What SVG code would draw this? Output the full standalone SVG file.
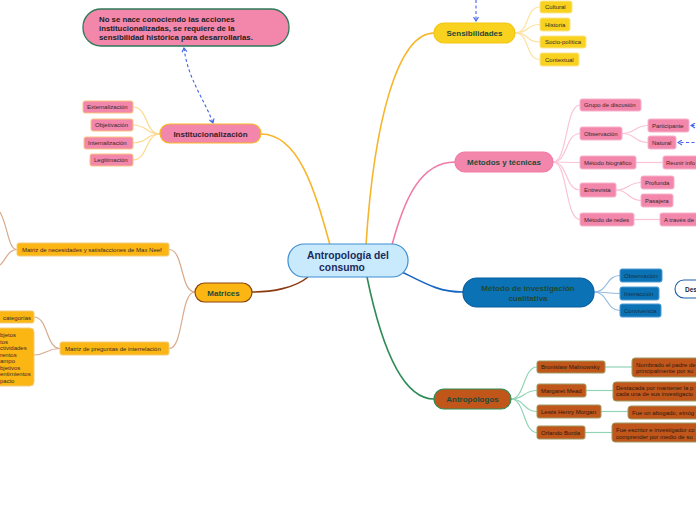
<svg xmlns="http://www.w3.org/2000/svg" width="696" height="520" viewBox="0 0 696 520">
<defs>
<marker id="ah" viewBox="0 0 6 6" refX="5" refY="3" markerWidth="6" markerHeight="6" orient="auto-start-reverse" markerUnits="userSpaceOnUse">
<path d="M1,0.5 L5,3 L1,5.5" fill="none" stroke="#3f63f0" stroke-width="1.1"/>
</marker>
</defs>
<style>
text{font-family:"Liberation Sans","DejaVu Sans",Arial,sans-serif;}
.s{font-size:6px;fill:#3a2a2a;}
.b{font-size:8px;font-weight:bold;fill:#1d4a36;text-anchor:middle;}
.pk{fill:#f286ab;stroke:#f7b2cc;stroke-width:1;}
.pko{fill:#f286ab;stroke:#f9c57e;stroke-width:1;}
.yl{fill:#f9d11f;stroke:#fbe58a;stroke-width:1;}
.or{fill:#fcb614;stroke:#f2cc7e;stroke-width:1;}
.bl{fill:#0b72b5;stroke:#4d9ad4;stroke-width:1;}
.br{fill:#c1561b;stroke:#9e9a62;stroke-width:1;}
.c{fill:none;stroke-width:1.2;}
.m{fill:none;stroke-width:1.6;}
.dash{fill:none;stroke:#3f63f0;stroke-width:1.1;stroke-dasharray:3,2.5;}
</style>
<rect width="696" height="520" fill="#ffffff"/>

<g id="connectors">
<!-- main branches -->
<path d="M261,134 C300,134 316,195 330,245" class="m" stroke="#f7b52b"/>
<path d="M434,33 C398,33 374,120 366,245" class="m" stroke="#f7b52b"/>
<path d="M455,162 C420,162 404,200 392,245" class="m" stroke="#f07aa8"/>
<path d="M402,272 C428,285 440,292 463,292" class="m" stroke="#1565c0"/>
<path d="M367,277 C380,340 400,399 434,399" class="m" stroke="#2e8b57"/>
<path d="M308,277 C295,288 272,292 252,292" class="m" stroke="#8b3a0f"/>
<!-- Institucionalizacion children -->
<g stroke="#fcd98e" class="c">
<path d="M160,134 C145,134 148,107 133,107"/>
<path d="M160,134 C145,134 148,125 133,125"/>
<path d="M160,134 C145,134 148,143 133,143"/>
<path d="M160,134 C145,134 148,160 133,160"/>
</g>
<!-- Sensibilidades children -->
<g stroke="#fde2a2" class="c">
<path d="M515,33 C530,33 525,7 540,7"/>
<path d="M515,33 C530,33 525,24.5 540,24.5"/>
<path d="M515,33 C530,33 525,42 540,42"/>
<path d="M515,33 C530,33 525,59.5 540,59.5"/>
</g>
<!-- Metodos children -->
<g stroke="#f9c3d7" class="c">
<path d="M553,162 C568,162 565,105 580,105"/>
<path d="M553,162 C568,162 565,133.5 580,133.5"/>
<path d="M553,162 C568,162 565,162.5 580,162.5"/>
<path d="M553,162 C568,162 565,190 580,190"/>
<path d="M553,162 C568,162 565,219.5 580,219.5"/>
<path d="M622,133.5 C636,133.5 634,125.5 648,125.5"/>
<path d="M622,133.5 C636,133.5 634,142.5 648,142.5"/>
<path d="M636,162.5 L663,162.5"/>
<path d="M616,190 C629,190 628,182.5 641,182.5"/>
<path d="M616,190 C629,190 628,200.5 641,200.5"/>
<path d="M634,219.5 L660,219.5"/>
</g>
<!-- Metodo inv children -->
<g stroke="#93b9e2" class="c">
<path d="M594,292 C608,292 606,275.5 620,275.5"/>
<path d="M594,292 C608,292 606,293.5 620,293.5"/>
<path d="M594,292 C608,292 606,310.5 620,310.5"/>
</g>
<!-- Antropologos children -->
<g stroke="#92d4b6" class="c">
<path d="M511,399 C525,399 523,367 537,367"/>
<path d="M511,399 C525,399 523,390.5 537,390.5"/>
<path d="M511,399 C525,399 523,411.5 537,411.5"/>
<path d="M511,399 C525,399 523,432.5 537,432.5"/>
<path d="M605,367 L632,367"/>
<path d="M586,390.5 L613,390.5"/>
<path d="M601,411.5 L628,411.5"/>
<path d="M585,432.5 L612,432.5"/>
</g>
<!-- Matrices children -->
<g stroke="#d9aa8c" class="c">
<path d="M195,292 C180,292 184,249.5 169,249.5"/>
<path d="M195,292 C180,292 184,348.5 169,348.5"/>
<path d="M17,249.5 C8,249.5 8,226 0,212"/>
<path d="M17,249.5 C8,249.5 6,260 0,265"/>
<path d="M60,348.5 C46,348.5 48,317 34,317"/>
<path d="M60,348.5 C46,348.5 46,355 34,355"/>
</g>
<!-- dashed relations -->
<path d="M184,48 C188,80 205,100 213,123" class="dash" marker-start="url(#ah)" marker-end="url(#ah)"/>
<path d="M476,0 L476,21" class="dash" marker-end="url(#ah)"/>
<path d="M700,125.5 L691,125.5" class="dash" marker-end="url(#ah)"/>
<path d="M700,142.5 L678,142.5" class="dash" marker-end="url(#ah)"/>
</g>

<g id="callout">
<rect x="83" y="9" width="206" height="37" rx="18" fill="#f286ab" stroke="#2d7a57" stroke-width="1.3"/>
<text x="99" y="22" font-size="7.8" font-weight="bold" fill="#222">No se nace conociendo las acciones</text>
<text x="99" y="31" font-size="7.8" font-weight="bold" fill="#222">institucionalizadas, se requiere de la</text>
<text x="99" y="40" font-size="7.8" font-weight="bold" fill="#222">sensibilidad histórica para desarrollarlas.</text>
</g>

<g id="center">
<rect x="288" y="244" width="120" height="33" rx="16" fill="#c8eafc" stroke="#3d8fd1" stroke-width="1.2"/>
<text x="348" y="259" font-size="10.3" font-weight="bold" fill="#1b2a5c" text-anchor="middle">Antropología del</text>
<text x="342" y="270.5" font-size="10.3" font-weight="bold" fill="#1b2a5c" text-anchor="middle">consumo</text>
</g>

<g id="institucionalizacion">
<rect x="160" y="124" width="101" height="19" rx="9.5" fill="#f286ab" stroke="#f7b52b" stroke-width="1.2"/>
<text x="210.5" y="136.5" class="b" style="fill:#3a1d2b">Institucionalización</text>
</g>
<g id="externalizacion"><rect x="83" y="101" width="50" height="12" rx="2" class="pko"/><text x="87" y="109" class="s">Externalización</text></g>
<g id="objetivacion"><rect x="91" y="119" width="42" height="12" rx="2" class="pko"/><text x="95" y="127" class="s">Objetivación</text></g>
<g id="internalizacion"><rect x="84" y="137" width="49" height="12" rx="2" class="pko"/><text x="88" y="145" class="s">Internalización</text></g>
<g id="legitimacion"><rect x="90" y="154" width="43" height="12" rx="2" class="pko"/><text x="94" y="162" class="s">Legitimación</text></g>

<g id="sensibilidades">
<rect x="434" y="23" width="81" height="20" rx="10" fill="#f9d11f" stroke="#f3c615" stroke-width="1.2"/>
<text x="474.5" y="36" class="b">Sensibilidades</text>
</g>
<g id="cultural"><rect x="540" y="1" width="32" height="12" rx="2" class="yl"/><text x="545" y="9" class="s">Cultural</text></g>
<g id="historia"><rect x="540" y="18" width="30" height="13" rx="2" class="yl"/><text x="545" y="27" class="s">Historia</text></g>
<g id="sociopolitica"><rect x="540" y="36" width="46" height="12" rx="2" class="yl"/><text x="545" y="44" class="s">Socio-política</text></g>
<g id="contextual"><rect x="540" y="53" width="39" height="13" rx="2" class="yl"/><text x="545" y="62" class="s">Contextual</text></g>

<g id="metodos">
<rect x="455" y="152" width="98" height="20" rx="10" fill="#f286ab" stroke="#f27aa8" stroke-width="1.2"/>
<text x="504" y="165" class="b">Métodos y técnicas</text>
</g>
<g id="grupo"><rect x="580" y="99" width="61" height="12" rx="2" class="pk"/><text x="584" y="107" class="s">Grupo de discusión</text></g>
<g id="observacion1"><rect x="580" y="127" width="42" height="13" rx="2" class="pk"/><text x="584" y="136" class="s">Observación</text></g>
<g id="participante"><rect x="648" y="119" width="41" height="13" rx="2" class="pk"/><text x="652" y="128" class="s">Participante</text></g>
<g id="natural"><rect x="648" y="136" width="28" height="13" rx="2" class="pk"/><text x="652" y="145" class="s">Natural</text></g>
<g id="biografico"><rect x="580" y="156" width="56" height="13" rx="2" class="pk"/><text x="584" y="165" class="s">Método biográfico</text></g>
<g id="reunir"><rect x="663" y="156" width="45" height="13" rx="2" class="pk"/><text x="666" y="165" class="s">Reunir info</text></g>
<g id="entrevista"><rect x="580" y="183" width="36" height="14" rx="2" class="pk"/><text x="584" y="192" class="s">Entrevista</text></g>
<g id="profunda"><rect x="641" y="176" width="33" height="13" rx="2" class="pk"/><text x="645" y="185" class="s">Profunda</text></g>
<g id="pasajera"><rect x="641" y="194" width="32" height="13" rx="2" class="pk"/><text x="645" y="203" class="s">Pasajera</text></g>
<g id="redes"><rect x="580" y="213" width="54" height="13" rx="2" class="pk"/><text x="584" y="222" class="s">Método de redes</text></g>
<g id="atraves"><rect x="660" y="213" width="50" height="13" rx="2" class="pk"/><text x="664" y="222" class="s">A través de</text></g>

<g id="metodo-inv">
<rect x="463" y="278" width="131" height="29" rx="14" fill="#0b72b5" stroke="#0a5fa0" stroke-width="1.2"/>
<text x="528" y="291" class="b">Método de investigación</text>
<text x="528" y="300.5" class="b">cualitativa</text>
</g>
<g id="observacion2"><rect x="620" y="269" width="42" height="13" rx="2" class="bl"/><text x="624" y="278" class="s" style="fill:#17324a">Observación</text></g>
<g id="interaccion"><rect x="620" y="287" width="39" height="13" rx="2" class="bl"/><text x="624" y="296" class="s" style="fill:#17324a">Interacción</text></g>
<g id="convivencia"><rect x="620" y="304" width="41" height="13" rx="2" class="bl"/><text x="624" y="313" class="s" style="fill:#17324a">Convivencia</text></g>
<g id="desc"><rect x="675" y="280" width="50" height="18" rx="9" fill="#ffffff" stroke="#1a5fa8" stroke-width="1.1"/><text x="685" y="291.5" font-size="6.5" font-weight="bold" fill="#1b2a3c">Des</text></g>

<g id="antropologos">
<rect x="434" y="389" width="77" height="20" rx="10" fill="#c1561b" stroke="#2e8b57" stroke-width="1.2"/>
<text x="472.5" y="402" class="b">Antropólogos</text>
</g>
<g id="malinowsky"><rect x="537" y="361" width="68" height="12" rx="2" class="br"/><text x="541" y="369" class="s" style="fill:#2a1a10">Bronislaw Malinowsky</text></g>
<g id="mead"><rect x="537" y="384" width="49" height="13" rx="2" class="br"/><text x="541" y="393" class="s" style="fill:#2a1a10">Margaret Mead</text></g>
<g id="morgan"><rect x="537" y="405" width="64" height="13" rx="2" class="br"/><text x="541" y="414" class="s" style="fill:#2a1a10">Lewis Henry Morgan</text></g>
<g id="borda"><rect x="537" y="426" width="48" height="13" rx="2" class="br"/><text x="541" y="435" class="s" style="fill:#2a1a10">Orlando Borda</text></g>
<g id="d-malinowsky"><rect x="632" y="358" width="80" height="19" rx="3" class="br"/><text x="636" y="366.5" class="s" style="fill:#2a1a10">Nombrado el padre de</text><text x="636" y="373" class="s" style="fill:#2a1a10">principalmente por su</text></g>
<g id="d-mead"><rect x="613" y="382" width="90" height="19" rx="3" class="br"/><text x="616" y="389.5" class="s" style="fill:#2a1a10">Destacada por mantener la p</text><text x="616" y="396" class="s" style="fill:#2a1a10">cada una de sus investigacio</text></g>
<g id="d-morgan"><rect x="628" y="406" width="80" height="13" rx="3" class="br"/><text x="632" y="414.5" class="s" style="fill:#2a1a10">Fue un abogado, etnóg</text></g>
<g id="d-borda"><rect x="612" y="423" width="90" height="19" rx="3" class="br"/><text x="616" y="432" class="s" style="fill:#2a1a10">Fue escritor e investigador co</text><text x="616" y="439" class="s" style="fill:#2a1a10">comprender por medio de su</text></g>

<g id="matrices">
<rect x="195" y="283" width="57" height="19" rx="9.5" fill="#fcb614" stroke="#8b4513" stroke-width="1.2"/>
<text x="223.5" y="295.5" class="b">Matrices</text>
</g>
<g id="maxneef"><rect x="17" y="243" width="152" height="13" rx="2" class="or"/><text x="22" y="252" class="s">Matriz de necesidades y satisfacciones de Max Neef</text></g>
<g id="preguntas"><rect x="60" y="342" width="109" height="13" rx="2" class="or"/><text x="65" y="351" class="s">Matriz de preguntas de interrelación</text></g>
<g id="categorias"><rect x="-5" y="311" width="39" height="12" rx="2" class="or"/><text x="3" y="319.5" class="s">categorías</text></g>
<g id="lista"><rect x="-5" y="328" width="39" height="58" rx="4" class="or"/>
<text x="0" y="337" class="s">bjetos</text>
<text x="0" y="343.5" class="s">tos</text>
<text x="0" y="350" class="s">ctividades</text>
<text x="0" y="356.5" class="s">rentos</text>
<text x="0" y="363" class="s">ampo</text>
<text x="0" y="369.5" class="s">bjetivos</text>
<text x="0" y="376" class="s">entimientos</text>
<text x="0" y="382.5" class="s">pacio</text>
</g>
</svg>
